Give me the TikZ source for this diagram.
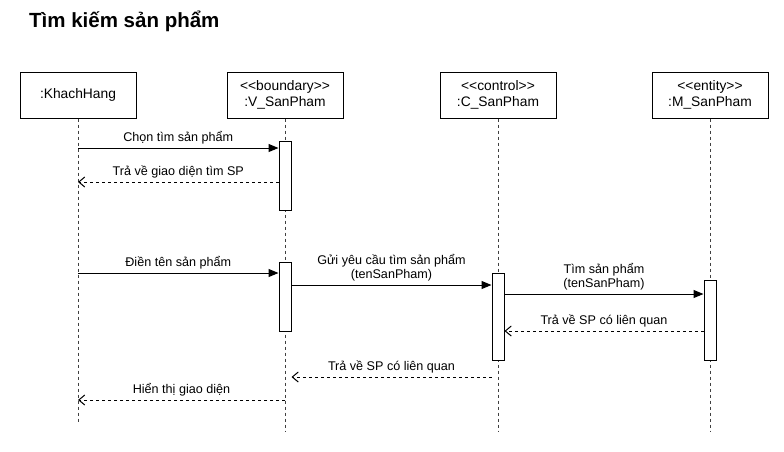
\documentclass[tikz,border=0pt]{standalone}
\usepackage{fontspec}
\setmainfont{Liberation Sans}
\usetikzlibrary{arrows.meta,positioning}

\begin{document}
\begin{tikzpicture}[x=1pt,y=-1pt,
    every node/.style={font=\fontsize{12.6}{14.5}\selectfont},
    obj/.style={draw,line width=1pt,fill=white,minimum width=116pt,minimum height=46pt,
      align=center,inner sep=0pt,font=\fontsize{13.8}{16}\selectfont},
    life/.style={line width=1pt,black!75,dash pattern=on 3pt off 3pt},
    act/.style={draw,line width=1pt,fill=white,minimum width=12pt,anchor=north,inner sep=0pt},
    call/.style={line width=1pt,-{Triangle[length=10pt,width=8pt]}},
    reply/.style={line width=1pt,dash pattern=on 3pt off 3pt,-{Straight Barb[length=6pt,width=10pt]}},
    msg/.style={above,inner sep=3pt,align=center}]
  \useasboundingbox (0,0) rectangle (784,451);

  % title
  \node[anchor=base west,inner sep=0pt,font=\fontsize{20.5}{24}\selectfont\bfseries] (title) at (29,27) {Tìm kiếm sản phẩm};

  % the objects
  \node[obj] (kh)  at (78,95)  {:KhachHang};
  \node[obj] (vsp) at (285,95) {{<}{<}boundary{>}{>}\\:V\_SanPham};
  \node[obj] (csp) at (498,95) {{<}{<}control{>}{>}\\:C\_SanPham};
  \node[obj] (msp) at (710,95) {{<}{<}entity{>}{>}\\:M\_SanPham};

  % lifelines
  \coordinate (khend)  at (78,423);
  \coordinate (vspend) at (285,432);
  \coordinate (cspend) at (498,432);
  \coordinate (mspend) at (710,432);
  \foreach \o in {kh,vsp,csp,msp}
    \draw[life] (\o.south) -- (\o end);

  % activation boxes
  \node[act,minimum height=69pt] (v1) at (285,141) {};
  \node[act,minimum height=69pt] (v2) at (285,262) {};
  \node[act,minimum height=87pt] (c1) at (498,273) {};
  \node[act,minimum height=80pt] (m1) at (710,280) {};

  % heights of the messages
  \coordinate (y1) at (0,148);
  \coordinate (y2) at (0,182);
  \coordinate (y3) at (0,273);
  \coordinate (y4) at (0,285);
  \coordinate (y5) at (0,294);
  \coordinate (y6) at (0,331);
  \coordinate (y7) at (0,377);
  \coordinate (y8) at (0,400);

  % the messages
  \draw[call]  (kh |- y1) -- (v1.west |- y1) node[msg,midway] {Chọn tìm sản phẩm};
  \draw[reply] (v1.west |- y2) -- (kh |- y2) node[msg,midway] {Trả về giao diện tìm SP};
  \draw[call]  (kh |- y3) -- (v2.west |- y3) node[msg,midway] {Điền tên sản phẩm};
  \draw[call]  (v2.east |- y4) -- (c1.west |- y4) node[msg,midway] {Gửi yêu cầu tìm sản phẩm\\(tenSanPham)};
  \draw[call]  (c1.east |- y5) -- (m1.west |- y5) node[msg,midway] {Tìm sản phẩm\\(tenSanPham)};
  \draw[reply] (m1.west |- y6) -- (c1.east |- y6) node[msg,midway] {Trả về SP có liên quan};
  \draw[reply] (c1.west |- y7) -- (v2.east |- y7) node[msg,midway] {Trả về SP có liên quan};
  \draw[reply] (vsp |- y8) -- (kh |- y8) node[msg,midway] {Hiển thị giao diện};
\end{tikzpicture}
\end{document}
